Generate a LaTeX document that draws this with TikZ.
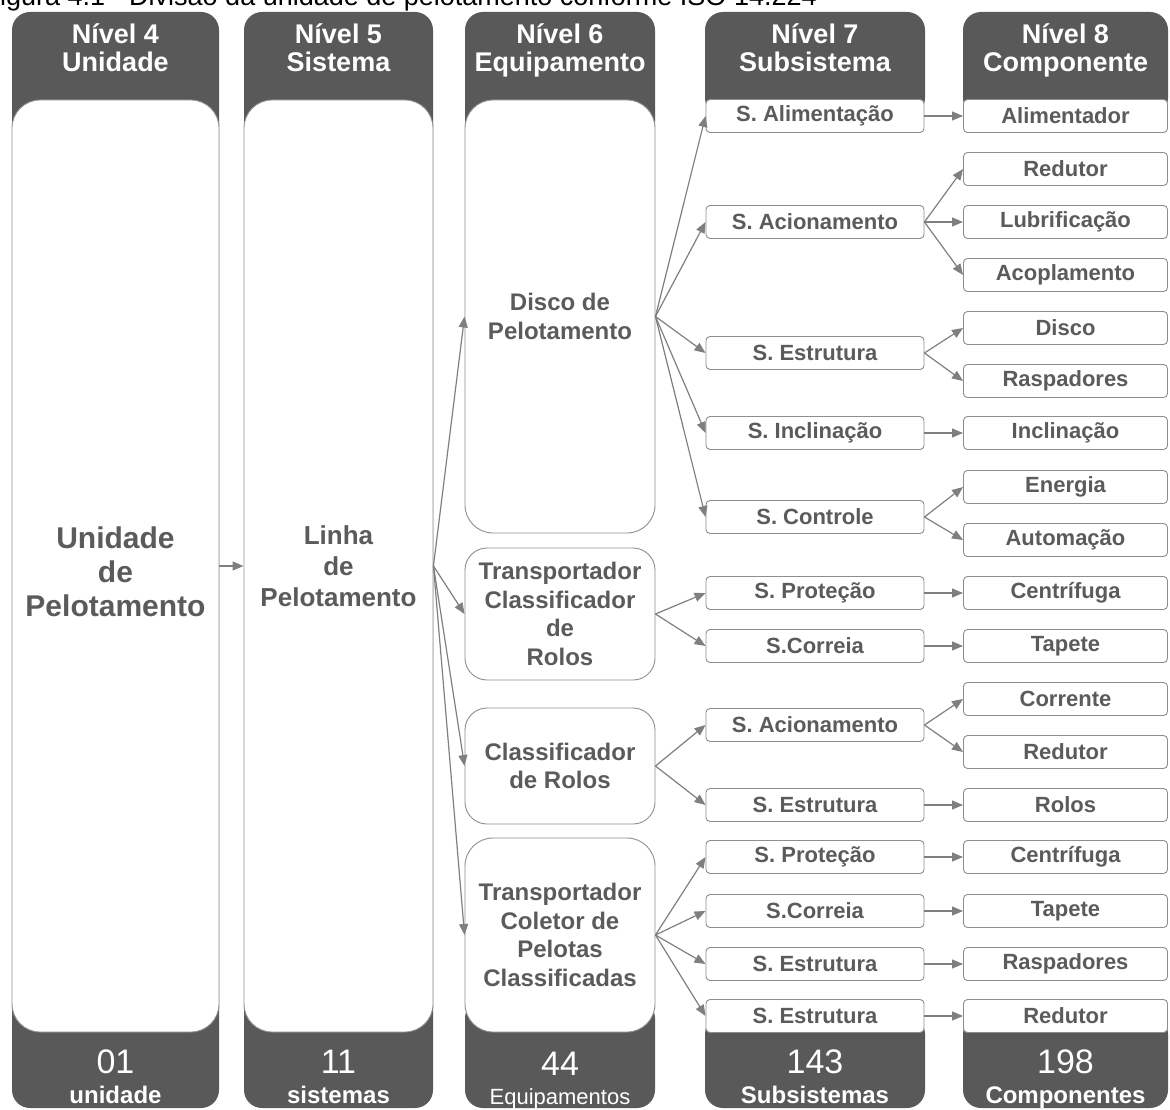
\documentclass[tikz,border=0pt]{standalone}
\usepackage{fontspec}
\setmainfont{Liberation Sans}
\usetikzlibrary{arrows.meta}
\definecolor{darkcol}{HTML}{595959}
\definecolor{boxtext}{HTML}{5B5B5B}
\definecolor{boxline}{HTML}{8E8E8E}
\definecolor{arrowcol}{HTML}{7F7F7F}
\begin{document}
\begin{tikzpicture}[x=1pt,y=-1pt,
  hdr/.style={text=white, anchor=base, inner sep=0, font=\bfseries\fontsize{27}{28}\selectfont},
  num/.style={text=white, anchor=base, inner sep=0, font=\fontsize{34}{36}\selectfont},
  numlbl/.style={text=white, anchor=base, inner sep=0, font=\bfseries\fontsize{24}{26}\selectfont},
  panel/.style={draw=boxline, line width=0.9pt, fill=white, inner sep=0,
    align=center, text=boxtext},
  ptext/.style={inner sep=0, align=center, text=boxtext},
  sub/.style={draw=boxline, line width=0.9pt, fill=white, rounded corners=4pt,
    inner sep=0, minimum width=218pt, minimum height=33pt, text=boxtext,
    font=\bfseries\fontsize{22}{24}\selectfont},
  comp/.style={sub, minimum width=204pt},
  link/.style={draw=arrowcol, line width=1.2pt, -{Triangle[length=11pt,width=9pt]}}
]
\clip (0,0) rectangle (1170,1110);
\useasboundingbox (0,0) rectangle (1170,1110);

% caption line running off the top edge
\node[anchor=base west, inner sep=0, font=\fontsize{27}{30}\selectfont] (title) at (-16.5,5.5)
  {Figura 4.1 - Divisão da unidade de pelotamento conforme ISO 14.224};

% dark column backgrounds
\fill[darkcol, rounded corners=18pt] (12,12) rectangle (219,1108);
\fill[darkcol, rounded corners=18pt] (244,12) rectangle (433,1108);
\fill[darkcol, rounded corners=18pt] (465,12) rectangle (655,140);
\fill[darkcol, rounded corners=18pt] (465,1000) rectangle (655,1108);
\fill[darkcol, rounded corners=18pt] (705,12) rectangle (925,116);
\fill[darkcol, rounded corners=18pt] (705,1016) rectangle (925,1108);
\fill[darkcol, rounded corners=18pt] (963,12) rectangle (1168,116);
\fill[darkcol, rounded corners=18pt] (963,1016) rectangle (1168,1108);

% column headers
\node[hdr] (h4a) at (115.5,44) {Nível 4};
\node[hdr] (h4b) at (115.5,72) {Unidade};
\node[hdr] (h5a) at (338.5,44) {Nível 5};
\node[hdr] (h5b) at (338.5,72) {Sistema};
\node[hdr] (h6a) at (560,44) {Nível 6};
\node[hdr] (h6b) at (560,72) {Equipamento};
\node[hdr] (h7a) at (815,44) {Nível 7};
\node[hdr] (h7b) at (815,72) {Subsistema};
\node[hdr] (h8a) at (1065.5,44) {Nível 8};
\node[hdr] (h8b) at (1065.5,72) {Componente};

% column footers
\node[num] (n4) at (115.5,1073) {01};
\node[numlbl] (l4) at (115.5,1103) {unidade};
\node[num] (n5) at (338.5,1073) {11};
\node[numlbl] (l5) at (338.5,1103) {sistemas};
\node[num] (n6) at (560,1075) {44};
\node[numlbl, font=\fontsize{22}{24}\selectfont] (l6) at (560,1104) {Equipamentos};
\node[num] (n7) at (815,1073) {143};
\node[numlbl] (l7) at (815,1103) {Subsistemas};
\node[num] (n8) at (1065.5,1073) {198};
\node[numlbl] (l8) at (1065.5,1103) {Componentes};

% level 4 and level 5 panels
\node[panel, rounded corners=28pt, minimum width=207pt, minimum height=932pt] (unid) at (115.5,566) {};
\node[ptext, font=\bfseries\fontsize{30}{34}\selectfont] (unidtxt) at (115.5,572)
  {Unidade\\de\\Pelotamento};
\node[panel, rounded corners=28pt, minimum width=189pt, minimum height=932pt,
  font=\bfseries\fontsize{26}{31}\selectfont] (linha) at (338.5,566)
  {Linha\\de\\Pelotamento};

% level 6 equipment panels
\tikzset{equip/.style={panel, minimum width=190pt, font=\bfseries\fontsize{24}{28.5}\selectfont}}
\node[equip, rounded corners=28pt, minimum height=433pt] (disco) at (560,316.5)
  {Disco de\\Pelotamento};
\node[equip, rounded corners=22pt, minimum height=132pt] (tcr) at (560,614)
  {Transportador\\Classificador\\de\\Rolos};
\node[equip, rounded corners=22pt, minimum height=116pt] (cr) at (560,766)
  {Classificador\\de Rolos};
\node[equip, rounded corners=28pt, minimum height=194pt] (tc) at (560,935)
  {Transportador\\Coletor de\\Pelotas\\Classificadas};

% level 7 subsystems
\node[sub] (s1)  at (815,116) {S. Alimentação};
\node[sub] (s2)  at (815,222) {S. Acionamento};
\node[sub] (s3)  at (815,353) {S. Estrutura};
\node[sub] (s4)  at (815,433) {S. Inclinação};
\node[sub] (s5)  at (815,517) {S. Controle};
\node[sub] (s6)  at (815,593) {S. Proteção};
\node[sub] (s7)  at (815,646) {S.Correia};
\node[sub] (s8)  at (815,725) {S. Acionamento};
\node[sub] (s9)  at (815,805) {S. Estrutura};
\node[sub] (s10) at (815,857) {S. Proteção};
\node[sub] (s11) at (815,911) {S.Correia};
\node[sub] (s12) at (815,964) {S. Estrutura};
\node[sub] (s13) at (815,1016) {S. Estrutura};

% level 8 components
\node[comp] (k1)  at (1065.5,116) {Alimentador};
\node[comp] (k2)  at (1065.5,169) {Redutor};
\node[comp] (k3)  at (1065.5,222) {Lubrificação};
\node[comp] (k4)  at (1065.5,275) {Acoplamento};
\node[comp] (k5)  at (1065.5,328) {Disco};
\node[comp] (k6)  at (1065.5,381) {Raspadores};
\node[comp] (k7)  at (1065.5,433) {Inclinação};
\node[comp] (k8)  at (1065.5,487) {Energia};
\node[comp] (k9)  at (1065.5,540) {Automação};
\node[comp] (k10) at (1065.5,593) {Centrífuga};
\node[comp] (k11) at (1065.5,646) {Tapete};
\node[comp] (k12) at (1065.5,699) {Corrente};
\node[comp] (k13) at (1065.5,752) {Redutor};
\node[comp] (k14) at (1065.5,805) {Rolos};
\node[comp] (k15) at (1065.5,857) {Centrífuga};
\node[comp] (k16) at (1065.5,911) {Tapete};
\node[comp] (k17) at (1065.5,964) {Raspadores};
\node[comp] (k18) at (1065.5,1016) {Redutor};

% connectors
\draw[link] (unid.east) -- (linha.west);
\foreach \e in {disco,tcr,cr,tc} \draw[link] (linha.east) -- (\e.west);
\foreach \s in {s1,s2,s3,s4,s5} \draw[link] (disco.east) -- (\s.west);
\foreach \s in {s6,s7} \draw[link] (tcr.east) -- (\s.west);
\foreach \s in {s8,s9} \draw[link] (cr.east) -- (\s.west);
\foreach \s in {s10,s11,s12,s13} \draw[link] (tc.east) -- (\s.west);
\foreach \a/\b in {s1/k1,s2/k2,s2/k3,s2/k4,s3/k5,s3/k6,s4/k7,s5/k8,s5/k9,
  s6/k10,s7/k11,s8/k12,s8/k13,s9/k14,s10/k15,s11/k16,s12/k17,s13/k18}
  \draw[link] (\a.east) -- (\b.west);
\end{tikzpicture}
\end{document}
